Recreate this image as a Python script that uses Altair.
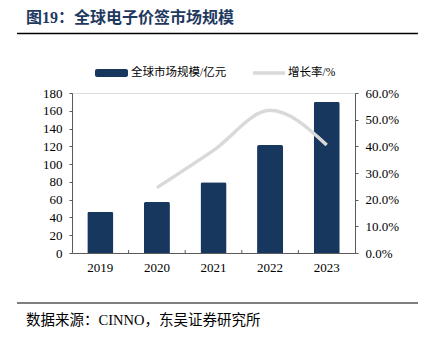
import altair as alt
import pandas as pd

years = ["2019", "2020", "2021", "2022", "2023"]
market_size = [46.5, 57.5, 79.5, 121.5, 170.0]
growth_years = ["2020", "2021", "2022", "2023"]
growth_rate = [0.245, 0.385, 0.535, 0.405]

title_text = "图19：全球电子价签市场规模"
source_text = "数据来源：CINNO，东吴证券研究所"
bar_label = "全球市场规模/亿元"
line_label = "增长率/%"

bar_df = pd.DataFrame({"year": years, "size": market_size})
line_df = pd.DataFrame({"year": growth_years, "rate": growth_rate})
tick_df = pd.DataFrame({"year": years[1:]})

NAVY = "#17375e"
GREY = "#d9d9d9"
AXIS = "#5a5a5a"
SERIF = "Liberation Serif, Noto Sans CJK SC"
CJK = "Liberation Serif, Noto Sans CJK SC"

W, H = 283, 160

xscale = alt.Scale(domain=years, paddingInner=0.54, paddingOuter=0.27)

x_axis = alt.Axis(title=None, labelFont=SERIF, labelFontSize=13, labelColor="#000",
                  domainColor=AXIS, ticks=False, labelPadding=8, labelAngle=0)

bars = alt.Chart(bar_df).mark_bar(color=NAVY, cornerRadiusTopLeft=2, cornerRadiusTopRight=2).encode(
    x=alt.X("year:N", scale=xscale, axis=x_axis),
    y=alt.Y("size:Q", scale=alt.Scale(domain=[0, 180]),
            axis=alt.Axis(title=None, values=list(range(0, 181, 20)), grid=False,
                          labelFont=SERIF, labelFontSize=13, labelColor="#000",
                          domainColor=AXIS, tickColor=AXIS, tickSize=3, labelPadding=7,
                          orient="left")),
)

xticks = alt.Chart(tick_df).mark_rule(color=AXIS, strokeWidth=1, xOffset=-28.3).encode(
    x=alt.X("year:N", scale=xscale, axis=x_axis),
    y=alt.value(H),
    y2=alt.value(H - 3),
)

line = alt.Chart(line_df).mark_line(color=GREY, strokeWidth=3.5, interpolate="monotone").encode(
    x=alt.X("year:N", scale=xscale, axis=x_axis),
    y=alt.Y("rate:Q", scale=alt.Scale(domain=[0, 0.6]),
            axis=alt.Axis(title=None, values=[0, 0.1, 0.2, 0.3, 0.4, 0.5, 0.6], format=".1%",
                          grid=False, labelFont=SERIF, labelFontSize=13, labelColor="#000",
                          domainColor=AXIS, tickColor=AXIS, tickSize=3, labelPadding=7,
                          orient="right")),
)

OX, OY = 72, 93  # plot origin in page pixels

def txt(text, x, y, size, bold=False, color="#000", font=CJK):
    return alt.Chart(pd.DataFrame({"t": [text]})).mark_text(
        align="left", baseline="middle", fontSize=size, font=font,
        fontWeight="bold" if bold else "normal", color=color,
    ).encode(text="t:N", x=alt.value(x - OX), y=alt.value(y - OY))

def rule(x1, x2, y, w, color):
    return alt.Chart(pd.DataFrame({"a": [0]})).mark_rule(color=color, strokeWidth=w).encode(
        x=alt.value(x1 - OX), x2=alt.value(x2 - OX), y=alt.value(y - OY))

def rect(x1, x2, y1, y2, color):
    return alt.Chart(pd.DataFrame({"a": [0]})).mark_rect(color=color, cornerRadius=2).encode(
        x=alt.value(x1 - OX), x2=alt.value(x2 - OX), y=alt.value(y1 - OY), y2=alt.value(y2 - OY))

deco = [
    txt(title_text, 26, 18, 16, bold=True, color="#1f3a5f"),
    rule(17, 418, 33.5, 1.6, "#000"),
    rect(95, 128, 69, 77, NAVY),
    txt(bar_label, 131, 73, 11.5),
    rule(253, 285, 73, 3.5, GREY),
    txt(line_label, 288, 73, 11.5),
    rule(17, 418, 303, 1.2, "#000"),
    txt(source_text, 26, 321, 14.5),
]

left = alt.layer(bars, xticks)
chart = alt.layer(left, line, *deco).resolve_scale(y="independent").properties(
    width=W, height=H,
    autosize=alt.AutoSizeParams(type="none"),
    padding={"left": OX, "top": OY, "right": 424 - OX - W, "bottom": 342 - OY - H},
).configure_view(stroke=None).configure(background="white")

chart.save("out.html", embed_options={"renderer": "svg", "actions": False})
